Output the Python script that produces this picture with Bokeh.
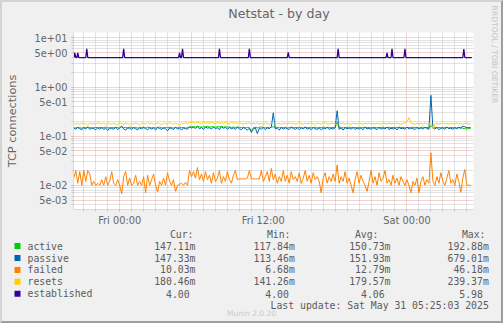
import datetime as dt
from bokeh.plotting import figure
from bokeh.layouts import row, column
from bokeh.models import FixedTicker, Grid, Label, BoxAnnotation, CustomJSTickFormatter, Range1d
from bokeh.embed import file_html
from bokeh.resources import INLINE

# ---------------- data ----------------
series_start = "2025-05-29 20:10"
sample_minutes = 10

# values in milli-connections (x 0.001)
active_m = [
    150,147,152,149,146,151,148,153,150,147,
    149,152,148,151,146,150,153,149,147,151,
    148,152,150,146,155,149,151,147,153,150,
    148,151,146,150,152,149,147,153,150,148,
    151,147,150,153,148,146,151,149,152,150,
    147,150,148,152,149,151,146,150,153,155,
    157,153,158,155,152,156,154,159,153,156,
    155,152,157,154,158,153,156,152,155,150,
    153,150,154,151,149,152,148,151,150,118,
    149,152,147,151,154,150,148,152,149,151,
    156,150,153,148,151,149,152,147,150,153,
    149,151,148,152,150,147,153,149,151,148,
    150,152,147,151,149,153,148,150,152,149,
    151,148,193,150,152,147,151,149,153,150,
    148,151,149,152,147,150,153,149,151,148,
    150,152,148,151,149,153,147,150,152,149,
    151,148,150,153,149,152,147,151,150,148,
    152,149,151,147,150,153,148,151,149,160,
    150,152,148,151,149,146,150,152,148,151,
    149,150,147,152,148,145,142,140,144,147,
]
passive_m = [
    145,139,150,142,136,148,141,153,138,146,
    143,135,149,140,152,137,146,131,148,142,
    139,151,136,147,160,140,133,149,144,138,
    150,141,135,147,139,153,142,136,148,140,
    146,134,151,143,138,149,141,129,147,144,
    137,152,140,146,133,148,142,139,155,147,
    152,144,158,141,150,137,155,146,149,140,
    154,143,148,136,157,145,151,139,150,142,
    147,138,153,141,136,149,143,132,146,125,
    141,148,113,145,139,150,136,147,142,155,
    300,141,146,133,150,139,148,142,137,151,
    144,138,149,135,147,141,153,139,145,136,
    150,142,138,148,134,146,141,152,137,145,
    140,149,330,138,147,133,150,142,146,139,
    151,137,145,140,148,135,152,141,146,138,
    149,143,136,150,139,147,141,154,137,145,
    140,148,134,151,142,146,138,153,140,147,
    143,136,150,141,148,139,152,144,138,679,
    147,140,151,136,145,149,138,153,142,146,
    139,148,143,150,145,161,155,149,151,147,
]
failed_m = [
    14,20,11,19,10,20,12,20,17,10,
    12,10,11,10,13,10,15,10,12,19,
    11,10,13,10,6.7,15,19,10,14,10,
    11,16,10,12,10,15,7,16,10,13,
    17,10,7.3,12,10,14,10,18,12,10,
    13,7.5,10,10.5,11,10,11.5,10,20,15,
    19,14,23,13,17,12,19,13,16,11,
    18,12,14,20,11,15,12,19,13,11,
    16,20,13,13.5,13.5,13.5,13.5,14,20,13.5,
    13.5,13.5,13.5,13.5,20,12,15,19,12,22,
    13,17,11,15,12,20,12,16,11,19,
    13,15,12,18,11,14,20,12,16,11,
    18,13,15,12,7,14,18,11,15,12,
    17,12,26,11,15,12,19,11,14,10,
    7,13,19,11,16,12,10,7.5,12,20,
    11,15,10,18,12,14,20,11,13,10,
    16,11,14,10,15,12,10,13,10,7,
    12,10,14,7,12,15,10,13,11,46,
    12,10,15,11,18,12,10,14,20,11,
    13,10,17,12,7.2,14,21,10,10,10,
]
resets_m = [
    180,176,184,172,188,178,182,170,186,179,
    183,175,190,181,177,185,173,187,180,176,
    184,178,171,189,182,176,186,179,174,183,
    177,188,180,172,185,181,176,190,178,184,
    175,182,187,179,173,186,180,177,189,181,
    176,184,178,170,185,182,188,180,193,186,
    190,183,195,187,181,192,185,189,184,194,
    186,180,191,185,188,182,196,184,179,190,
    185,189,181,187,183,176,185,180,188,178,
    184,179,186,177,183,175,189,181,176,185,
    180,187,178,183,174,186,181,177,188,179,
    184,176,182,189,180,175,185,178,183,187,
    179,174,186,181,177,184,190,180,176,185,
    182,178,168,184,180,187,176,183,179,175,
    185,181,177,188,180,174,183,179,186,178,
    182,176,184,180,175,187,181,178,185,179,
    183,177,186,180,176,184,188,200,239,185,
    180,176,184,178,182,175,186,180,177,183,
    141,179,184,176,182,187,178,181,175,184,
    180,177,185,179,183,176,181,186,178,180,
]

est_start = "2025-05-29 20:10"
est_end = "2025-05-31 05:25"
est_base = 4.0
est_spike_times = ["2025-05-29 20:15", "2025-05-29 20:30", "2025-05-29 21:15",
                   "2025-05-30 00:20", "2025-05-30 05:00", "2025-05-30 05:15",
                   "2025-05-30 08:20", "2025-05-30 10:50", "2025-05-30 14:05",
                   "2025-05-30 18:15", "2025-05-30 22:20", "2025-05-30 22:45",
                   "2025-05-30 23:50", "2025-05-31 04:45"]
est_spike_vals = [5.0, 5.0, 6.0, 6.0, 5.0, 6.0, 6.0, 6.0, 5.1, 6.0, 5.0, 6.0, 6.0, 5.98]

names = ["active", "passive", "failed", "resets", "established"]
colors = ["#00CC00", "#0066B3", "#FF8000", "#FFCC00", "#330099"]
cur_vals = ["147.11m", "147.33m", "10.03m", "180.46m", "4.00"]
min_vals = ["117.84m", "113.46m", "6.68m", "141.26m", "4.00"]
avg_vals = ["150.73m", "151.93m", "12.79m", "179.57m", "4.06"]
max_vals = ["192.88m", "679.01m", "46.18m", "239.37m", "5.98"]

x_tick_times = ["2025-05-30 00:00", "2025-05-30 12:00", "2025-05-31 00:00"]
x_tick_labels = ["Fri 00:00", "Fri 12:00", "Sat 00:00"]
y_ticks = [0.005, 0.01, 0.05, 0.1, 0.5, 1, 5, 10]
y_tick_labels = ["5e-03", "1e-02", "5e-02", "1e-01", "5e-01", "1e+00", "5e+00", "1e+01"]
y_minor = [0.004, 0.006, 0.007, 0.008, 0.009, 0.02, 0.03, 0.04, 0.06, 0.07, 0.08, 0.09,
           0.2, 0.3, 0.4, 0.6, 0.7, 0.8, 0.9, 2, 3, 4, 6, 7, 8, 9]

# ---------------- helpers ----------------
FMT = "%Y-%m-%d %H:%M"
EPOCH = dt.datetime(1970, 1, 1)
def P(s):
    return dt.datetime.strptime(s, FMT)
def ms(t):
    return (t - EPOCH).total_seconds() * 1000.0

t0 = P(series_start)
times = [t0 + dt.timedelta(minutes=sample_minutes * i) for i in range(len(active_m))]

est_x = [P(est_start)]
est_y = [est_base]
five = dt.timedelta(minutes=5)
for ts, v in zip(est_spike_times, est_spike_vals):
    t = P(ts)
    est_x += [t - five, t, t + five]
    est_y += [est_base, v, est_base]
est_x.append(P(est_end))
est_y.append(est_base)

x_start = P("2025-05-29 20:08") + dt.timedelta(seconds=30)
x_end = x_start + dt.timedelta(minutes=2005)

six_h, hourly = [], []
h = P("2025-05-29 21:00")
while h < x_end:
    (six_h if h.hour % 6 == 0 else hourly).append(ms(h))
    h += dt.timedelta(hours=1)

BG = "#F0F0F0"
FONT_C = "#666666"
LEG_C = "#5C5C5C"
AXIS_C = "#CFD6F8"
GRID_C = "#C4C4C4"
MGRID_C = "#F2A0A0"
MONO = "DejaVu Sans Mono"

def blank(w, h):
    f = figure(width=w, height=h, title=None, output_backend="svg", toolbar_location=None,
               x_range=Range1d(0, w), y_range=Range1d(0, h),
               x_axis_location=None, y_axis_location=None,
               min_border=0, min_border_left=0, min_border_right=0,
               min_border_top=0, min_border_bottom=0)
    f.grid.visible = False
    f.outline_line_color = None
    f.background_fill_color = BG
    f.border_fill_color = BG
    return f

def label(f, s, x, y, size, color=FONT_C, font="DejaVu Sans", align="left", angle=0):
    f.add_layout(Label(x=x, y=y, x_units="screen", y_units="screen", text=s,
                       text_font=font, text_font_size=f"{size}px", text_color=color,
                       text_align=align, text_baseline="middle", angle=angle))

# page layout (inside a 2px border): content spans page x 2..501, y 2..321
# ---------------- title strip ----------------
title_fig = blank(485, 24)            # page x 2..487, y 2..26
TITLE_SHIFT = 43.5                    # measured correction of this strip's horizontal origin
label(title_fig, "Netstat - by day", 251 - 2 - TITLE_SHIFT, 26 - 12.8, 12.6, align="center")

# ---------------- chart ----------------
CH_W, CH_H = 485, 202                 # page x 2..487, y 26..228
p = figure(width=CH_W, height=CH_H, title=None, x_axis_type="datetime", y_axis_type="log",
           output_backend="svg", toolbar_location=None,
           x_range=Range1d(x_start, x_end),
           y_range=Range1d(10 ** -2.493, 10 ** 1.112),
           min_border_left=70, min_border_top=6, min_border_right=14, min_border_bottom=19)
p.background_fill_color = "#FFFFFF"
p.border_fill_color = BG
p.outline_line_color = None
p.xgrid.visible = False
p.ygrid.visible = False
p.add_layout(Grid(dimension=0, ticker=FixedTicker(ticks=six_h, minor_ticks=hourly),
                  grid_line_color=MGRID_C, grid_line_dash="1 1",
                  minor_grid_line_color=GRID_C, minor_grid_line_dash="1 1"))
p.add_layout(Grid(dimension=1, ticker=FixedTicker(ticks=y_ticks, minor_ticks=y_minor),
                  grid_line_color=MGRID_C, grid_line_dash="1 1",
                  minor_grid_line_color=GRID_C, minor_grid_line_dash="1 1"))

LOOKUP = "const i = tk.indexOf(tick); return i >= 0 ? lb[i] : '';"
xt = [ms(P(s)) for s in x_tick_times]
xa = p.xaxis[0]
xa.ticker = FixedTicker(ticks=xt, minor_ticks=hourly + six_h)
xa.formatter = CustomJSTickFormatter(args=dict(tk=xt, lb=x_tick_labels), code=LOOKUP)
ya = p.yaxis[0]
ya.ticker = FixedTicker(ticks=y_ticks, minor_ticks=y_minor)
ya.formatter = CustomJSTickFormatter(args=dict(tk=y_ticks, lb=y_tick_labels), code=LOOKUP)
for ax in (xa, ya):
    ax.axis_line_color = AXIS_C
    ax.major_tick_line_color = MGRID_C
    ax.minor_tick_line_color = GRID_C
    ax.major_tick_in = 0
    ax.minor_tick_in = 0
    ax.major_tick_out = 2
    ax.minor_tick_out = 2
    ax.major_label_text_font = "DejaVu Sans"
    ax.major_label_text_font_size = "9.8px"
    ax.major_label_text_color = FONT_C
xa.major_label_standoff = 3
ya.major_label_standoff = 4
ya.axis_label = "TCP connections"
ya.axis_label_text_font = "DejaVu Sans"
ya.axis_label_text_font_style = "normal"
ya.axis_label_text_font_size = "11.3px"
ya.axis_label_text_color = FONT_C
ya.axis_label_standoff = 13

for vals, c in zip([active_m, passive_m, failed_m, resets_m], colors[:4]):
    p.line(times, [v / 1000.0 for v in vals], line_color=c, line_width=1)
p.line(est_x, est_y, line_color=colors[4], line_width=1.3)

# ---------------- rrdtool strip ----------------
rrd_fig = blank(14, 226)              # page x 487..501, y 2..228
label(rrd_fig, "RRDTOOL / TOBI OETIKER", 493.5 - 487, 228 - 54, 7.6,
      color="#C4C4C4", align="center", angle=-1.5707963)

# ---------------- legend ----------------
leg = blank(499, 93)                  # page x 2..501, y 228..321
def lx(x): return x - 2
def ly(y): return 321 - y
CW = 5.9
headers = ["Cur:", "Min:", "Avg:", "Max:"]
header_r = [193, 290, 378, 485]
col_r = [195, 294.3, 390, 488.3]
for hname, hr in zip(headers, header_r):
    label(leg, hname, lx(hr), ly(233.5), 9.8, color=LEG_C, font=MONO, align="right")
for k, name in enumerate(names):
    y = 245.6 + 11.9 * k
    leg.add_layout(BoxAnnotation(left=lx(14), right=lx(20), top=ly(y - 3), bottom=ly(y + 3),
                                 left_units="screen", right_units="screen",
                                 top_units="screen", bottom_units="screen",
                                 fill_color=colors[k], fill_alpha=1.0, line_color=None))
    label(leg, name, lx(27), ly(y), 9.8, color=LEG_C, font=MONO)
    for vals, r in zip([cur_vals, min_vals, avg_vals, max_vals], col_r):
        s = vals[k]
        rx = r if s.endswith("m") else r - CW
        label(leg, s, lx(rx), ly(y), 9.8, color=LEG_C, font=MONO, align="right")
label(leg, "Last update: Sat May 31 05:25:03 2025", lx(488.3), ly(305.3), 9.8,
      color=LEG_C, font=MONO, align="right")
label(leg, "Munin 2.0.20", lx(251), ly(312.5), 7.5, color="#CACACA", align="center")

layout = column(row(column(title_fig, p, spacing=0), rrd_fig, spacing=0), leg, spacing=0)
layout.styles = {"border-top": "2px solid #d4d4d4", "border-left": "2px solid #d4d4d4",
                 "border-right": "2px solid #9e9e9e", "border-bottom": "2px solid #9e9e9e",
                 "background-color": BG}

open("out.html", "w").write(file_html(layout, INLINE))
